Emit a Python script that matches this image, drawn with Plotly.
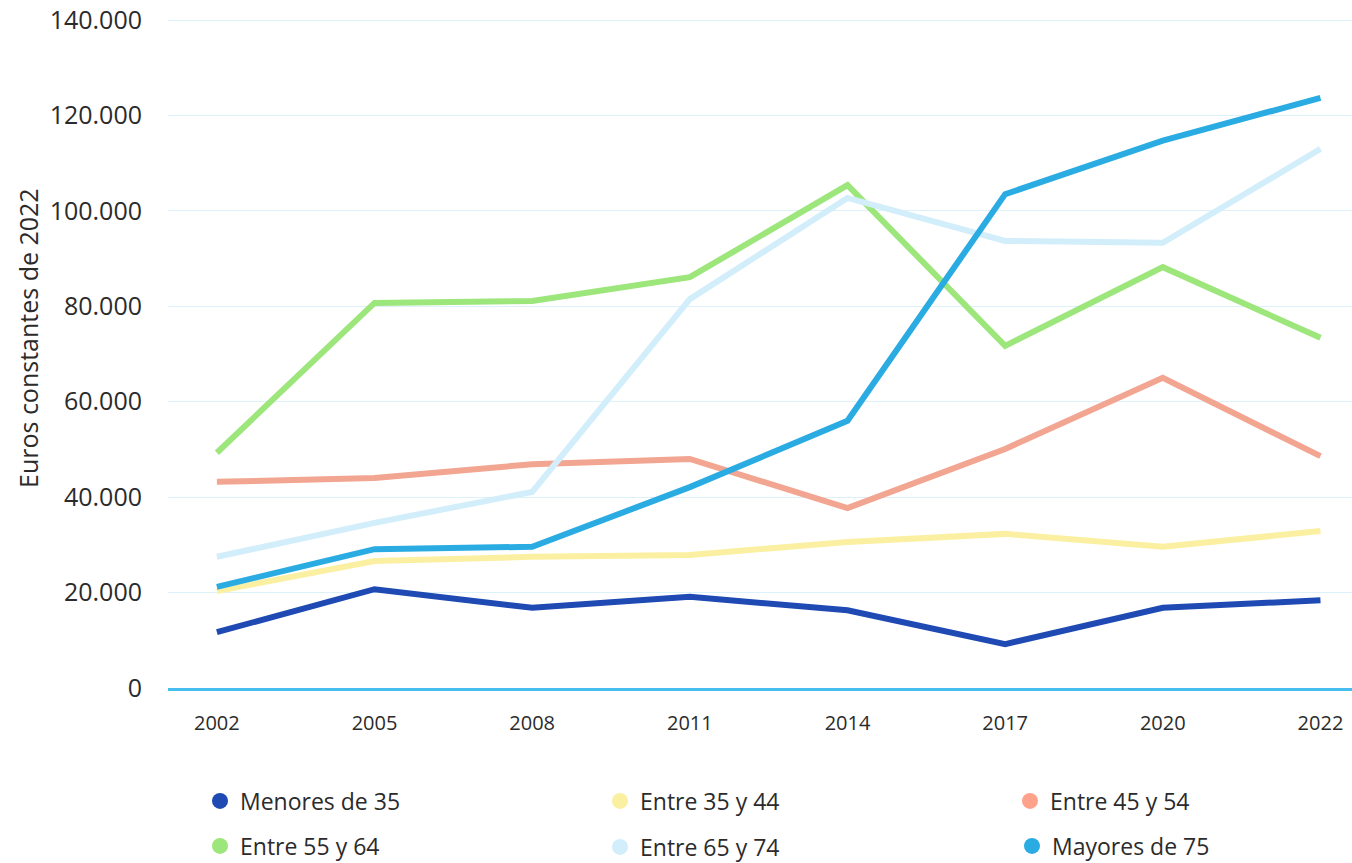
import plotly.graph_objects as go

years = ["2002", "2005", "2008", "2011", "2014", "2017", "2020", "2022"]

menores_35 = [11700, 20700, 16800, 19100, 16300, 9200, 16800, 18400]
entre_35_44 = [20300, 26600, 27500, 27900, 30600, 32300, 29600, 32900]
entre_45_54 = [43200, 44000, 46900, 48000, 37700, 50100, 65000, 48600]
entre_55_64 = [49300, 80700, 81100, 86100, 105400, 71700, 88200, 73400]
entre_65_74 = [27500, 34600, 41100, 81500, 102700, 93700, 93300, 113000]
mayores_75 = [21200, 29100, 29600, 42100, 56000, 103500, 114700, 123700]

series_names = ["Menores de 35", "Entre 35 y 44", "Entre 45 y 54",
                "Entre 55 y 64", "Entre 65 y 74", "Mayores de 75"]
series_values = [menores_35, entre_35_44, entre_45_54,
                 entre_55_64, entre_65_74, mayores_75]
line_colors = ["#1F4AB3", "#FBF0A2", "#F2A591", "#9DE67B", "#D3EEFB", "#2AACE3"]
legend_colors = ["#1F4AB3", "#FBF0A2", "#FFA28C", "#9DE67B", "#D3EEFB", "#2AACE3"]

# drawing order (back to front) approximating the reference
draw_order = [1, 2, 3, 4, 0, 5]

W, H = 1352, 863
L, R, T, B = 168, 0, 18, 175
plot_w = W - L - R
plot_h = H - T - B

fig = go.Figure()
for i in draw_order:
    fig.add_trace(go.Scatter(
        x=years, y=series_values[i], mode="lines", name=series_names[i],
        line=dict(color=line_colors[i], width=6), showlegend=False,
        hoverinfo="skip"))

# legend: one legend per entry, placed in a 3 x 2 grid
legend_ids = ["legend", "legend2", "legend3", "legend4", "legend5", "legend6"]
legend_px_x = [200, 600, 1010, 200, 600, 1012]   # left edge of each legend box (px)
legend_px_y = [801, 801, 801, 846, 847, 846]     # centre of each row (px)

for i, (name, col) in enumerate(zip(series_names, legend_colors)):
    fig.add_trace(go.Scatter(
        x=[None], y=[None], mode="markers", name=name,
        marker=dict(color=col, size=16, symbol="circle"),
        showlegend=True, legend=legend_ids[i]))

legend_layout = {}
for i, lid in enumerate(legend_ids):
    legend_layout[lid] = dict(
        orientation="h", xanchor="left", yanchor="middle",
        x=(legend_px_x[i] - L) / plot_w,
        y=(H - B - legend_px_y[i]) / plot_h,
        font=dict(family="Open Sans", size=23, color="#2b2b2b"),
        bgcolor="rgba(0,0,0,0)", itemclick=False, itemdoubleclick=False)

y_top = 140000 * plot_h / (688 - 20)

fig.update_layout(
    width=W, height=H,
    margin=dict(l=L, r=R, t=T, b=B, autoexpand=False),
    paper_bgcolor="white", plot_bgcolor="white",
    font=dict(family="Open Sans", color="#2b2b2b"),
    separators=",.",
    **legend_layout,
    xaxis=dict(
        type="category", range=[-0.31, 7.2], automargin=False,
        showgrid=False, zeroline=False,
        showline=True, linecolor="#45BEEF", linewidth=2.5,
        ticks="", ticklabelstandoff=15,
        tickfont=dict(family="Open Sans", size=20, color="#2b2b2b")),
    yaxis=dict(
        range=[0, y_top], tickvals=[0, 20000, 40000, 60000, 80000, 100000, 120000, 140000],
        tickformat=",d", automargin=False,
        showgrid=True, gridcolor="#DDF1FB", gridwidth=1,
        zeroline=False, ticks="", ticklabelstandoff=25,
        tickfont=dict(family="Open Sans", size=25, color="#2b2b2b")),
    annotations=[dict(
        text="Euros constantes de 2022", xref="paper", yref="paper",
        x=(28 - L) / plot_w, y=(H - B - 338) / plot_h,
        xanchor="center", yanchor="middle", textangle=-90, showarrow=False,
        font=dict(family="Open Sans", size=25, color="#2b2b2b"))],
)

fig.write_html("out.html", config={"displayModeBar": False},
               post_script="document.body.style.margin='0px';")
